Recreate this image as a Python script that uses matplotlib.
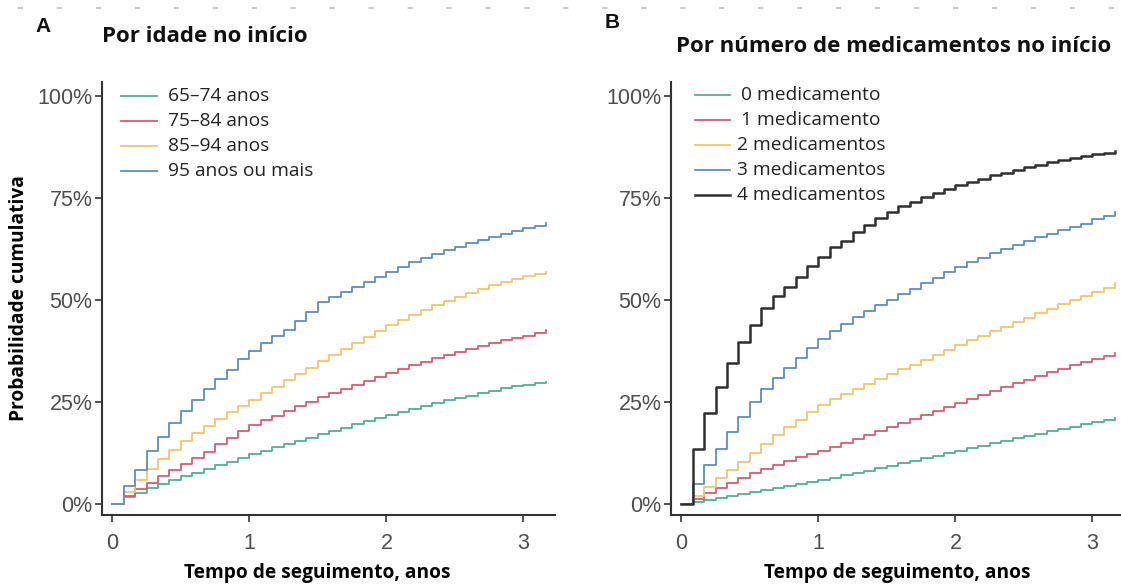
import numpy as np
import matplotlib
matplotlib.use("Agg")
import matplotlib.pyplot as plt
from matplotlib.lines import Line2D

# follow-up time in months (monthly steps), converted to years when plotting
months = list(range(39))

# Panel A - by age at baseline (cumulative probability, %)
age_labels = ["65–74 anos", "75–84 anos", "85–94 anos", "95 anos ou mais"]
age_65_74 = [0, 1.6, 2.8, 3.8, 4.8, 5.8, 6.8, 7.7, 8.6, 9.5, 10.4, 11.3, 12.2,
             13.1, 13.9, 14.7, 15.5, 16.3, 17.1, 17.9, 18.7, 19.5, 20.3, 21.1, 21.9,
             22.6, 23.3, 24.0, 24.7, 25.4, 26.0, 26.6, 27.2, 27.8, 28.4, 28.9, 29.3,
             29.6, 29.9]
age_75_84 = [0, 2.0, 3.6, 5.2, 6.8, 8.3, 9.8, 11.3, 12.8, 14.6, 16.2, 17.8, 19.3,
             20.5, 21.7, 22.9, 24.0, 25.1, 26.2, 27.2, 28.2, 29.2, 30.2, 31.2, 32.2,
             33.1, 34.0, 34.9, 35.7, 36.5, 37.3, 38.0, 38.7, 39.4, 40.1, 40.7, 41.3,
             41.9, 42.6]
age_85_94 = [0, 3.0, 5.8, 8.5, 11.0, 13.2, 15.4, 17.3, 19.1, 20.8, 22.5, 24.0, 25.5,
             27.1, 28.7, 30.3, 31.9, 33.4, 35.0, 36.5, 38.0, 39.5, 41.0, 42.5, 44.0,
             45.2, 46.4, 47.6, 48.7, 49.8, 50.8, 51.8, 52.7, 53.6, 54.4, 55.1, 55.8,
             56.4, 56.9]
age_95_plus = [0, 4.4, 8.3, 13.0, 16.4, 19.8, 22.7, 25.5, 28.2, 30.6, 32.8, 35.5, 37.5,
               39.5, 41.1, 42.7, 45.0, 47.0, 49.6, 50.8, 52.1, 53.3, 54.5, 55.7, 57.0,
               58.2, 59.3, 60.3, 61.3, 62.2, 63.1, 64.0, 64.8, 65.6, 66.3, 67.0, 67.7,
               68.3, 68.9]

# Panel B - by number of medications at baseline (cumulative probability, %)
med_labels = ["0 medicamento", "1 medicamento", "2 medicamentos",
              "3 medicamentos", "4 medicamentos"]
med_0 = [0, 0.5, 1.0, 1.5, 2.0, 2.4, 2.9, 3.4, 3.9, 4.3, 4.8, 5.3, 5.8,
         6.4, 7.0, 7.6, 8.2, 8.8, 9.4, 10.0, 10.6, 11.2, 11.8, 12.5, 13.1,
         13.7, 14.3, 14.9, 15.5, 16.1, 16.6, 17.2, 17.8, 18.4, 19.0, 19.5, 20.0,
         20.6, 21.2]
med_1 = [0, 1.2, 2.6, 3.9, 5.2, 6.4, 7.5, 8.6, 9.6, 10.6, 11.5, 12.3, 13.1,
         14.1, 15.0, 16.0, 16.9, 17.9, 18.8, 19.8, 20.8, 21.8, 22.8, 23.8, 24.8,
         25.8, 26.8, 27.8, 28.7, 29.6, 30.5, 31.4, 32.3, 33.2, 34.0, 34.8, 35.6,
         36.3, 37.0]
med_2 = [0, 2.0, 4.2, 6.3, 8.3, 10.3, 12.6, 14.8, 16.8, 18.8, 20.7, 22.6, 24.4,
         25.7, 27.0, 28.2, 29.4, 30.6, 31.8, 33.0, 34.2, 35.4, 36.6, 37.8, 39.0,
         40.2, 41.3, 42.4, 43.5, 44.6, 45.7, 46.8, 47.9, 49.0, 50.0, 51.0, 52.0,
         53.0, 54.2]
med_3 = [0, 4.9, 9.5, 13.4, 17.6, 21.4, 25.1, 28.2, 31.0, 33.4, 35.8, 38.3, 40.4,
         42.4, 44.2, 45.8, 47.3, 48.7, 50.0, 51.4, 52.8, 54.2, 55.5, 56.8, 58.1,
         59.3, 60.4, 61.5, 62.5, 63.5, 64.5, 65.4, 66.3, 67.1, 67.9, 68.7, 69.9,
         70.7, 71.5]
med_4 = [0, 13.4, 22.2, 28.7, 34.5, 39.7, 44.0, 48.0, 51.1, 53.3, 55.6, 58.3, 60.7,
         63.0, 64.6, 66.7, 68.4, 70.1, 71.5, 73.0, 74.1, 75.2, 76.2, 77.2, 78.2,
         79.0, 79.8, 80.6, 81.3, 82.0, 82.6, 83.2, 83.8, 84.4, 84.9, 85.4, 85.8,
         86.2, 86.6]

y_ticks = [0, 25, 50, 75, 100]
y_ticklabels = ["0%", "25%", "50%", "75%", "100%"]
x_ticks = [0, 1, 2, 3]

COLORS = ["#52b08c", "#db5a6e", "#f3c46c", "#5b8cc8", "#2e2e2e"]
W, H = 1121, 584
BOLD = "Open Sans"
TICK_FONT = "Liberation Sans"


def style_axes(ax):
    for side in ["top", "right"]:
        ax.spines[side].set_visible(False)
    for side in ["left", "bottom"]:
        ax.spines[side].set_color("#333333")
        ax.spines[side].set_linewidth(1.5)
    ax.set_xlim(-0.075, 3.23)
    ax.set_ylim(-2.7, 103.5)
    ax.set_yticks(y_ticks)
    ax.set_yticklabels(y_ticklabels)
    ax.set_xticks(x_ticks)
    ax.tick_params(axis="both", direction="out", length=5, width=1.2,
                   color="#333333", labelcolor="#4d4d4d", labelsize=15.5, pad=2)
    ax.tick_params(axis="x", pad=8)
    for lab in ax.get_xticklabels() + ax.get_yticklabels():
        lab.set_fontfamily(TICK_FONT)
    ax.set_xlabel("Tempo de seguimento, anos", fontfamily=BOLD, fontweight="bold",
                  fontsize=13.8, va="center")


def manual_legend(labels, colors, rows_px, x0, x1, text_x, ha, lw_list):
    # legend drawn in figure pixel space to match the layout of the original
    for lab, col, yp, lw in zip(labels, colors, rows_px, lw_list):
        yf = 1 - yp / H
        fig.add_artist(Line2D([x0 / W, x1 / W], [yf, yf], color=col, lw=lw,
                              transform=fig.transFigure))
        fig.text(text_x / W, yf, lab, ha=ha, va="center", fontfamily="Open Sans",
                 fontsize=13.8, color="#222222")


fig = plt.figure(figsize=(W / 100, H / 100), dpi=100, facecolor="white")

axA = fig.add_axes([102 / W, (H - 515) / H, 453 / W, 433 / H])
axB = fig.add_axes([671 / W, (H - 515) / H, 453 / W, 433 / H])

t = np.array(months) / 12.0
label_y = (515 - 573) / 433

for series, col in zip([age_65_74, age_75_84, age_85_94, age_95_plus], COLORS[:4]):
    axA.step(t, series, where="post", color=col, lw=1.3)
style_axes(axA)
axA.xaxis.set_label_coords((317 - 102) / 453, label_y)
axA.set_ylabel("Probabilidade cumulativa", fontfamily=BOLD, fontweight="bold",
               fontsize=13.8, labelpad=6)

for series, col in zip([med_0, med_1, med_2, med_3], COLORS[:4]):
    axB.step(t, series, where="post", color=col, lw=1.3)
axB.step(t, med_4, where="post", color=COLORS[4], lw=1.8)
style_axes(axB)
axB.xaxis.set_label_coords(0.5, label_y)

# panel letters and titles
fig.text(35 / W, 1 - 27 / H, "A", fontfamily="Liberation Sans", fontweight="bold",
         fontsize=15, va="center", ha="left", color="#111111")
fig.text(102 / W, 1 - 36 / H, "Por idade no início", fontfamily=BOLD,
         fontweight="bold", fontsize=16, va="center", ha="left", color="#111111")
fig.text(605 / W, 1 - 23 / H, "B", fontfamily="Liberation Sans", fontweight="bold",
         fontsize=15, va="center", ha="left", color="#111111")
fig.text(676 / W, 1 - 47 / H, "Por número de medicamentos no início", fontfamily=BOLD,
         fontweight="bold", fontsize=16, va="center", ha="left", color="#111111")

# legends
manual_legend(age_labels, COLORS[:4], [96, 121, 146, 171], 121, 157, 168,
              "left", [1.3] * 4)
manual_legend(med_labels, COLORS, [95, 120, 145, 170, 195], 695, 730, 811,
              "center", [1.3] * 4 + [1.8])

# faint dashed rule along the top edge
fig.add_artist(Line2D([18 / W, 1.0], [1 - 8 / H, 1 - 8 / H], color="#c8c8c8",
                      lw=1.5, ls=(0, (2.4, 16.3)), transform=fig.transFigure))

fig.savefig("out.png", dpi=100, facecolor="white")
